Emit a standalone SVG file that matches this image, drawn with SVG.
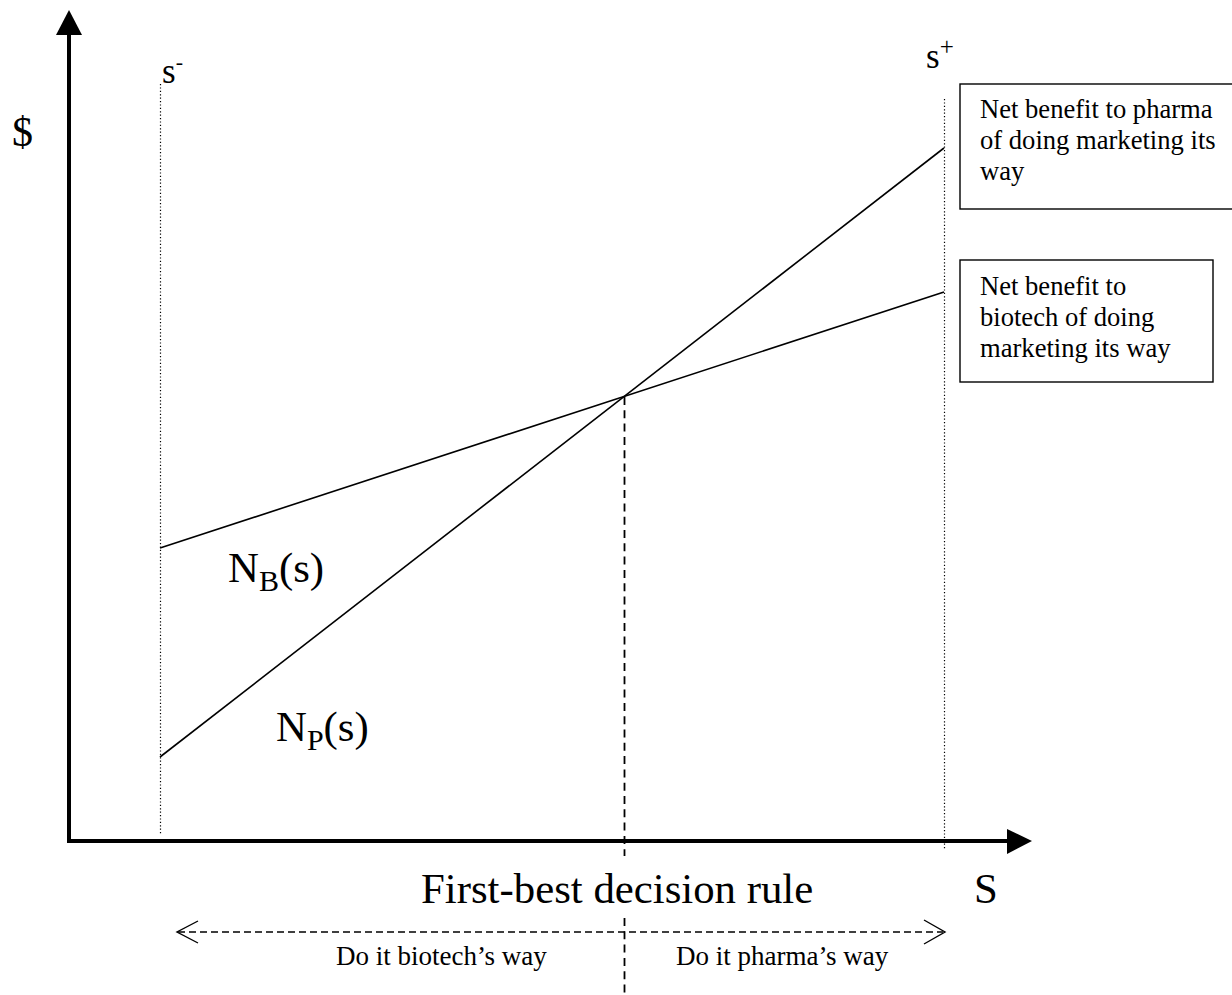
<svg xmlns="http://www.w3.org/2000/svg" width="1232" height="995" viewBox="0 0 1232 995">
  <style>
    text { font-family: "Liberation Serif", "Times New Roman", serif; fill: #000; }
    .axis { stroke: #000; stroke-width: 4; fill: none; }
    .curve { stroke: #000; stroke-width: 1.6; fill: none; }
    .dotted { stroke: #000; stroke-width: 1.2; stroke-dasharray: 1.2 2.2; fill: none; }
    .dashed { stroke: #000; stroke-width: 1.8; stroke-dasharray: 8 5.3; fill: none; }
    .hdash { stroke: #000; stroke-width: 1.4; stroke-dasharray: 7 4; fill: none; }
    .chev { stroke: #000; stroke-width: 1.4; fill: none; }
    .box { fill: #fff; stroke: #000; stroke-width: 1.4; }
    .big { font-size: 42.8px; }
    .mid { font-size: 35px; }
    .small { font-size: 26.6px; }
    .note { font-size: 27px; }
  </style>

  <rect width="1232" height="995" fill="#fff"/>

  <!-- axes -->
  <g id="axes">
    <line class="axis" x1="69" y1="842" x2="69" y2="30"/>
    <polygon points="69,10 56,35 82,35" fill="#000"/>
    <line class="axis" x1="67" y1="841" x2="1010" y2="841"/>
    <polygon points="1032,841 1007,829 1007,854" fill="#000"/>
    <text x="12" y="146" font-size="42px">$</text>
    <text class="big" x="974" y="903">S</text>
  </g>

  <!-- bounds of the signal range -->
  <g id="bounds">
    <line class="dotted" x1="160.5" y1="84" x2="160.5" y2="834"/>
    <line class="dotted" x1="944.5" y1="99" x2="944.5" y2="850"/>
    <text class="mid" x="162" y="83">s<tspan font-size="22px" dy="-14">-</tspan></text>
    <text class="mid" x="926" y="68">s<tspan font-size="25px" dy="-13">+</tspan></text>
  </g>

  <!-- connectors: benefit lines and decision threshold -->
  <g id="connectors">
    <line class="curve" x1="160" y1="757" x2="944" y2="148"/>
    <line class="curve" x1="160" y1="548" x2="944" y2="292"/>
    <line class="dashed" x1="624.5" y1="397" x2="624.5" y2="856"/>
    <line class="dashed" x1="624.5" y1="918" x2="624.5" y2="994"/>
    <line class="hdash" x1="178" y1="932" x2="943" y2="932"/>
    <polyline class="chev" points="198,921 177,932 198,943"/>
    <polyline class="chev" points="924,920 945,932 924,944"/>
  </g>

  <!-- curve labels -->
  <g id="label-nb">
    <text class="big" x="228" y="582">N<tspan font-size="30px" dy="9">B</tspan><tspan dy="-9">(s)</tspan></text>
  </g>
  <g id="label-np">
    <text class="big" x="276" y="741">N<tspan font-size="30px" dy="9">P</tspan><tspan dy="-9">(s)</tspan></text>
  </g>

  <!-- legend boxes -->
  <g id="box-pharma">
    <rect class="box" x="960" y="84" width="274" height="125"/>
    <text class="small" x="980" y="118">Net benefit to pharma</text>
    <text class="small" x="980" y="149">of doing marketing its</text>
    <text class="small" x="980" y="180">way</text>
  </g>
  <g id="box-biotech">
    <rect class="box" x="960" y="260" width="253" height="122"/>
    <text class="small" x="980" y="295">Net benefit to</text>
    <text class="small" x="980" y="326">biotech of doing</text>
    <text class="small" x="980" y="357">marketing its way</text>
  </g>

  <!-- decision rule -->
  <g id="decision-rule">
    <text class="big" x="421" y="903">First-best decision rule</text>
    <text class="note" x="336" y="965">Do it biotech’s way</text>
    <text class="note" x="676" y="965">Do it pharma’s way</text>
  </g>
</svg>
